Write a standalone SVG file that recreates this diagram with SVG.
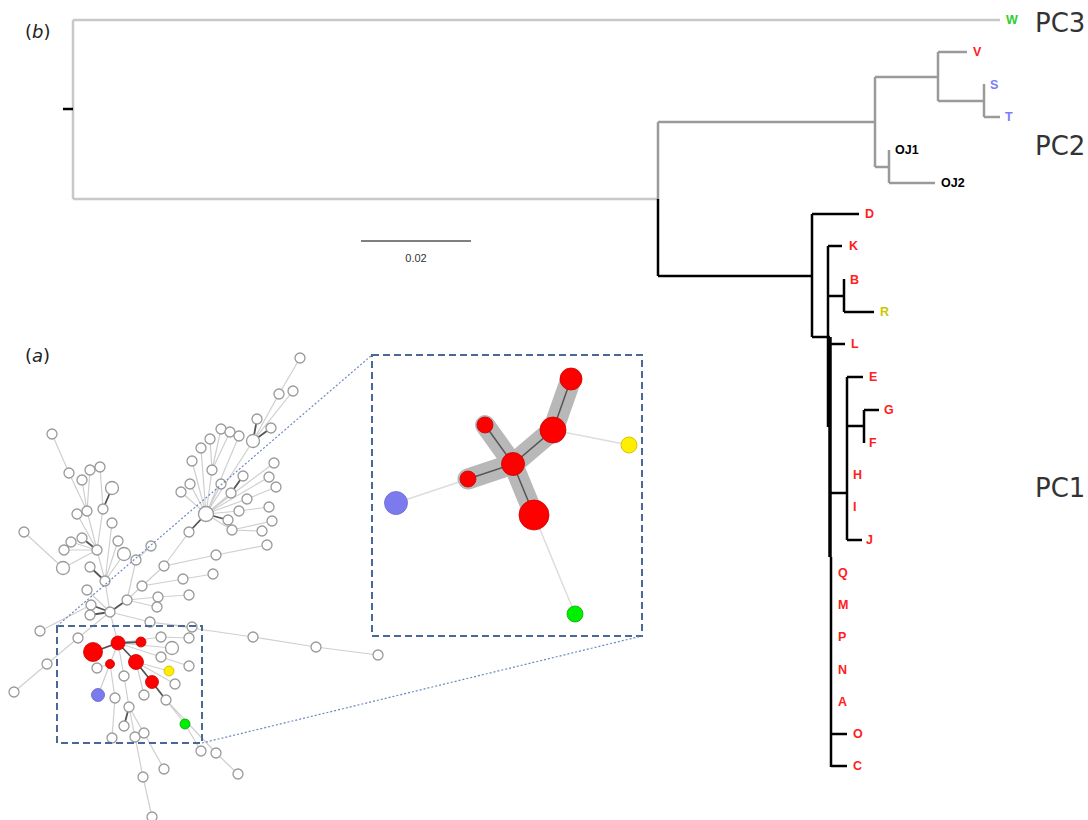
<svg xmlns="http://www.w3.org/2000/svg" width="1088" height="820" viewBox="0 0 1088 820">
<style>
.lg{stroke:#c8c8c8;stroke-width:2.5;fill:none}
.gr{stroke:#9a9a9a;stroke-width:2.5;fill:none}
.bk{stroke:#000;stroke-width:2.5;fill:none}
.lab{font-family:"Liberation Sans",Arial,sans-serif;font-weight:bold;font-size:12.5px}
.red{fill:#ff2020}.blu{fill:#7b7bff}.grn{fill:#33cc33}.yel{fill:#c8c800}.blk{fill:#000}
.pc{font-family:"DejaVu Sans",sans-serif;font-size:26px;fill:#333}
.pl{font-family:"DejaVu Sans",sans-serif;font-size:18px;fill:#222}
.e{stroke:#cfcfcf;stroke-width:1.2;fill:none}
.d{stroke:#555;stroke-width:1.8;fill:none}
.n{fill:#fff;stroke:#9a9a9a;stroke-width:1.3}
.rn{fill:#ff0000;stroke:#c00;stroke-width:0.8}
.box{fill:none;stroke:#4a6894;stroke-width:2;stroke-dasharray:7,4}
.dot{fill:none;stroke:#6a8abc;stroke-width:1.2;stroke-dasharray:2,2}
</style>
<rect width="1088" height="820" fill="#fff"/>
<g id="panel-labels">
<text class="pl" x="25" y="38">(<tspan font-style="italic">b</tspan>)</text>
<text class="pl" x="25" y="362">(<tspan font-style="italic">a</tspan>)</text>
</g>
<g id="tree-connectors">
<path class="lg" d="M73,20 H1000 M73,20 V199 M73,199 H658"/>
<path class="bk" d="M63,109 H73"/>
<path class="gr" d="M658,122 V199 M658,122 H875 M875,77 V167 M875,77 H938 M938,52 V101 M938,52 H967 M938,101 H984 M984,84 V117 M984,117 H1000 M875,167 H889 M889,150 V183 M889,183 H935"/>
<path class="bk" d="M658,199 V276 M658,276 H812 M812,214 V337 M812,214 H859 M812,337 H830 M828,246 V427 M828,246 H842 M828,296 H844 M844,279 V312 M844,312 H874 M830,344 H845 M831,557 V767 M847,377 V540 M847,377 H863 M830,493 H847 M847,426 H864 M864,410 V443 M864,410 H879 M847,540 H862 M831,734 H847 M831,766 H847"/>
<path class="bk" style="stroke-width:3.5" d="M830,337 V557"/>
</g>
<g id="tree-labels">
<text class="lab grn" x="1006" y="24">W</text>
<text class="lab red" x="973" y="56">V</text>
<text class="lab blu" x="990" y="89">S</text>
<text class="lab blu" x="1005" y="121">T</text>
<text class="lab blk" x="895" y="154">OJ1</text>
<text class="lab blk" x="941" y="187">OJ2</text>
<text class="lab red" x="865" y="218">D</text>
<text class="lab red" x="849" y="250">K</text>
<text class="lab red" x="850" y="284">B</text>
<text class="lab yel" x="880" y="316">R</text>
<text class="lab red" x="851" y="348">L</text>
<text class="lab red" x="869" y="381">E</text>
<text class="lab red" x="884" y="414">G</text>
<text class="lab red" x="869" y="447">F</text>
<text class="lab red" x="853" y="479">H</text>
<text class="lab red" x="853" y="511">I</text>
<text class="lab red" x="866" y="544">J</text>
<text class="lab red" x="838" y="577">Q</text>
<text class="lab red" x="838" y="609">M</text>
<text class="lab red" x="838" y="641">P</text>
<text class="lab red" x="838" y="674">N</text>
<text class="lab red" x="838" y="706">A</text>
<text class="lab red" x="853" y="738">O</text>
<text class="lab red" x="853" y="770">C</text>
<text class="pc" x="1035" y="32">PC3</text>
<text class="pc" x="1035" y="155">PC2</text>
<text class="pc" x="1035" y="497">PC1</text>
</g>
<g id="scale-bar">
<path d="M361,241 H471" stroke="#555" stroke-width="1.5"/>
<text x="416" y="262" text-anchor="middle" font-family="Liberation Sans, Arial, sans-serif" font-size="11" fill="#333">0.02</text>
</g>
<g id="network-edges">
<path class="e" d="M300,358 L279,394 L253,441 M253,441 L206,514 M221,429 L212,470 M230,432 L212,470 M210,439 L212,470 M212,470 L206,514 M239,436 L206,514 M201,448 L206,514 M192,461 L206,514 M274,463 L206,514 M269,477 L206,514 M231,493 L206,514 M221,484 L206,514 M190,484 L206,514 M181,492 L206,514 M276,487 L247,499 L206,514 M269,507 L239,511 L206,514 M232,530 L206,514 M272,521 L232,530 M262,531 L232,530 M189,532 L164,566 L216,555 L267,545 M164,566 L142,586 L127,600 M142,586 L183,579 L213,574 M158,597 L189,595 M127,600 L158,597 M127,600 L157,607 M151,546 L136,560 L127,600 M293,391 L253,441"/>
<path class="d" d="M257,419 L253,441 L271,428 M243,476 L231,493 M228,520 L206,514 L189,532 M127,600 L110,612"/>
<path class="e" d="M52,434 L69,473 L87,511 M82,480 L87,511 M90,470 L87,511 M100,467 L103,509 M87,511 L97,550 M103,509 L97,550 M77,514 L97,550 M71,542 L97,550 M64,550 L97,550 M112,523 L105,581 M118,541 L105,581 M124,554 L105,581 M97,550 L105,581 M24,532 L63,568 L97,550 M105,581 L110,612 M87,590 L110,612 M40,631 L91,605 M14,692 L47,664 L78,638 L110,612 M110,612 L150,622 L192,627 M150,622 L253,637 L316,647 L378,655 M161,637 L189,638"/>
<path class="d" d="M112,488 L103,509 M82,538 L97,550 M90,567 L105,581 M91,605 L110,612 L90,615"/>
<path class="e" d="M110,612 L118,643 M118,643 L110,664 L98,695 M118,643 L161,637 M118,643 L172,648 M118,643 L161,657 L189,666 M118,643 L124,676 L129,707 M136,662 L169,671 M136,662 L175,684 M136,662 L144,695 M110,664 L97,668 M110,664 L115,698 L112,738 M166,700 L185,724 L201,751 M166,700 L216,753 L238,774 M129,707 L135,737 L143,777 L152,817 M129,707 L144,733 L164,769"/>
<path class="d" d="M93,652 L118,643 L141,642 M118,643 L136,662 L152,682 L166,700 M129,707 L124,726"/>
</g>
<g id="network-nodes">
<circle class="n" cx="300" cy="358" r="5"/><circle class="n" cx="279" cy="394" r="5"/><circle class="n" cx="293" cy="391" r="5"/>
<circle class="n" cx="257" cy="419" r="5"/><circle class="n" cx="271" cy="428" r="5"/><circle class="n" cx="253" cy="441" r="6.5"/>
<circle class="n" cx="221" cy="429" r="5"/><circle class="n" cx="230" cy="432" r="5"/><circle class="n" cx="239" cy="436" r="5"/>
<circle class="n" cx="210" cy="439" r="5"/><circle class="n" cx="201" cy="448" r="5"/><circle class="n" cx="192" cy="461" r="5"/>
<circle class="n" cx="212" cy="470" r="5"/><circle class="n" cx="274" cy="463" r="5"/><circle class="n" cx="269" cy="477" r="5"/>
<circle class="n" cx="276" cy="487" r="5"/><circle class="n" cx="247" cy="499" r="5"/><circle class="n" cx="269" cy="507" r="5"/>
<circle class="n" cx="239" cy="511" r="5"/><circle class="n" cx="272" cy="521" r="5"/><circle class="n" cx="262" cy="531" r="5"/>
<circle class="n" cx="267" cy="545" r="5"/><circle class="n" cx="243" cy="476" r="5"/><circle class="n" cx="231" cy="493" r="5"/>
<circle class="n" cx="221" cy="484" r="5"/><circle class="n" cx="190" cy="484" r="5"/><circle class="n" cx="181" cy="492" r="5"/>
<circle class="n" cx="206" cy="514" r="7.5"/><circle class="n" cx="228" cy="520" r="5"/><circle class="n" cx="232" cy="530" r="5"/>
<circle class="n" cx="189" cy="532" r="5"/><circle class="n" cx="216" cy="555" r="5"/><circle class="n" cx="164" cy="566" r="5"/>
<circle class="n" cx="213" cy="574" r="5"/><circle class="n" cx="183" cy="579" r="5"/><circle class="n" cx="189" cy="595" r="5"/>
<circle class="n" cx="158" cy="597" r="5"/><circle class="n" cx="157" cy="607" r="5"/><circle class="n" cx="142" cy="586" r="5"/>
<circle class="n" cx="127" cy="600" r="5"/><circle class="n" cx="151" cy="546" r="5"/><circle class="n" cx="136" cy="560" r="5"/>
<circle class="n" cx="52" cy="434" r="5"/><circle class="n" cx="69" cy="473" r="5"/><circle class="n" cx="82" cy="480" r="5"/>
<circle class="n" cx="90" cy="470" r="5"/><circle class="n" cx="100" cy="467" r="5"/><circle class="n" cx="112" cy="488" r="6.5"/>
<circle class="n" cx="87" cy="511" r="5"/><circle class="n" cx="77" cy="514" r="5"/><circle class="n" cx="103" cy="509" r="5"/>
<circle class="n" cx="112" cy="523" r="5"/><circle class="n" cx="24" cy="532" r="5"/><circle class="n" cx="82" cy="538" r="5"/>
<circle class="n" cx="71" cy="542" r="5"/><circle class="n" cx="64" cy="550" r="5"/><circle class="n" cx="97" cy="550" r="5"/>
<circle class="n" cx="118" cy="541" r="5"/><circle class="n" cx="124" cy="554" r="6.5"/><circle class="n" cx="63" cy="568" r="6.5"/>
<circle class="n" cx="90" cy="567" r="5"/><circle class="n" cx="105" cy="581" r="5"/><circle class="n" cx="87" cy="590" r="5"/>
<circle class="n" cx="91" cy="605" r="5"/><circle class="n" cx="110" cy="612" r="5"/><circle class="n" cx="90" cy="615" r="5"/>
<circle class="n" cx="40" cy="631" r="5"/><circle class="n" cx="78" cy="638" r="5"/><circle class="n" cx="47" cy="664" r="5"/>
<circle class="n" cx="14" cy="692" r="5"/><circle class="n" cx="150" cy="622" r="5"/><circle class="n" cx="192" cy="627" r="5"/>
<circle class="n" cx="189" cy="638" r="5"/><circle class="n" cx="253" cy="637" r="5"/><circle class="n" cx="316" cy="647" r="5"/>
<circle class="n" cx="378" cy="655" r="5"/>
<circle class="n" cx="161" cy="637" r="5"/><circle class="n" cx="172" cy="648" r="6.5"/><circle class="n" cx="161" cy="657" r="5"/>
<circle class="n" cx="189" cy="666" r="5"/><circle class="n" cx="175" cy="684" r="5"/><circle class="n" cx="97" cy="668" r="5"/>
<circle class="n" cx="124" cy="676" r="5"/><circle class="n" cx="144" cy="695" r="5"/><circle class="n" cx="166" cy="700" r="5"/>
<circle class="n" cx="115" cy="698" r="5"/><circle class="n" cx="129" cy="707" r="5"/><circle class="n" cx="124" cy="726" r="5"/>
<circle class="n" cx="112" cy="738" r="5"/><circle class="n" cx="135" cy="737" r="5"/><circle class="n" cx="144" cy="733" r="5"/>
<circle class="n" cx="201" cy="751" r="5"/><circle class="n" cx="216" cy="753" r="5"/><circle class="n" cx="238" cy="774" r="5"/>
<circle class="n" cx="164" cy="769" r="5"/><circle class="n" cx="143" cy="777" r="5"/><circle class="n" cx="152" cy="817" r="5"/>
<circle class="rn" cx="93" cy="652" r="9.5"/><circle class="rn" cx="118" cy="643" r="7"/><circle class="rn" cx="141" cy="642" r="5"/>
<circle class="rn" cx="110" cy="664" r="4.5"/><circle class="rn" cx="136" cy="662" r="7.5"/><circle class="rn" cx="152" cy="682" r="6.5"/>
<circle cx="169" cy="671" r="5" fill="#ffee00" stroke="#c8b800" stroke-width="0.8"/>
<circle cx="98" cy="695" r="6.5" fill="#7b7bee" stroke="#6060c0" stroke-width="0.8"/>
<circle cx="185" cy="724" r="5" fill="#00ee00" stroke="#00a000" stroke-width="0.8"/>
</g>
<g id="zoom-frames">
<rect class="box" x="57" y="626" width="145" height="117"/>
<rect class="box" x="372" y="355" width="270" height="281"/>
<path class="dot" d="M57,626 L372,355 M202,743 L642,636"/>
</g>
<g id="inset">
<path d="M553,430 L629,445 M468,479 L396,503 M534,515 L575,614" stroke="#dddddd" stroke-width="1.5" fill="none"/>
<path d="M571,379 L553,430 L513,464 L468,479" stroke="#b8b8b8" stroke-width="21" stroke-linecap="round" stroke-linejoin="round" fill="none"/>
<path d="M485,425 L513,464 L534,515" stroke="#b8b8b8" stroke-width="20" stroke-linecap="round" stroke-linejoin="round" fill="none"/>
<path d="M571,379 L553,430 L513,464 L468,479 M485,425 L513,464 L534,515" stroke="#555" stroke-width="1.5" fill="none"/>
<circle class="rn" cx="571" cy="379" r="11"/>
<circle class="rn" cx="553" cy="430" r="13"/>
<circle class="rn" cx="485" cy="425" r="8"/>
<circle class="rn" cx="513" cy="464" r="11.5"/>
<circle class="rn" cx="468" cy="479" r="8"/>
<circle class="rn" cx="534" cy="515" r="15"/>
<circle cx="629" cy="445" r="8" fill="#ffee00" stroke="#c8b800" stroke-width="0.8"/>
<circle cx="396" cy="503" r="11.5" fill="#7b7bee" stroke="#6a6ad0" stroke-width="0.8"/>
<circle cx="575" cy="614" r="8" fill="#00ee00" stroke="#00b000" stroke-width="0.8"/>
</g>
</svg>
